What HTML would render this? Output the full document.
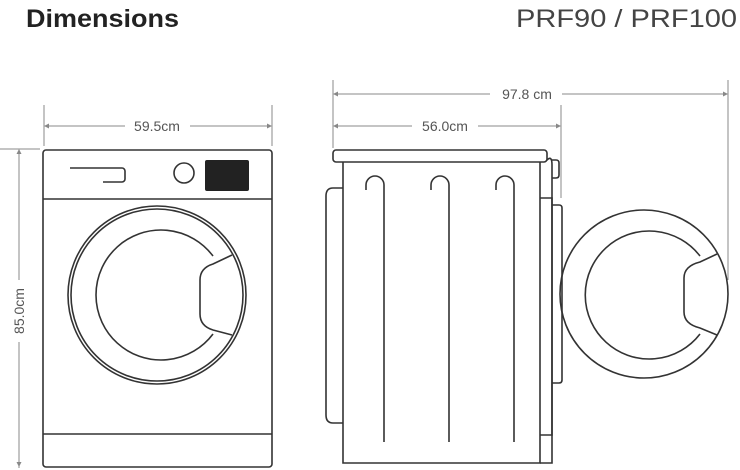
<!DOCTYPE html>
<html><head><meta charset="utf-8"><style>
html,body{margin:0;padding:0;background:#fff;width:740px;height:470px;overflow:hidden}
svg{display:block}
text{font-family:"Liberation Sans",sans-serif}
</style></head><body>
<svg width="740" height="470" viewBox="0 0 740 470" xmlns="http://www.w3.org/2000/svg">
<text x="26" y="27" font-size="25" font-weight="bold" fill="#222" textLength="153" lengthAdjust="spacingAndGlyphs">Dimensions</text>
<text x="516" y="27" font-size="25" fill="#444" textLength="221" lengthAdjust="spacingAndGlyphs">PRF90  /  PRF100</text>

<g stroke="#888" stroke-width="1" fill="none">
  <!-- front width dim -->
  <line x1="44" y1="105" x2="44" y2="146"/>
  <line x1="272" y1="105" x2="272" y2="146"/>
  <line x1="46" y1="126" x2="125" y2="126"/>
  <line x1="190" y1="126" x2="270" y2="126"/>
  <!-- height dim -->
  <line x1="0" y1="149" x2="40" y2="149"/>
  <line x1="19" y1="150" x2="19" y2="280"/>
  <line x1="19" y1="342" x2="19" y2="468"/>
  <!-- side dims -->
  <line x1="333" y1="80" x2="333" y2="148"/>
  <line x1="728" y1="80" x2="728" y2="280"/>
  <line x1="561" y1="105" x2="561" y2="198"/>
  <line x1="335" y1="94" x2="490" y2="94"/>
  <line x1="562" y1="94" x2="726" y2="94"/>
  <line x1="335" y1="126" x2="412" y2="126"/>
  <line x1="478" y1="126" x2="559" y2="126"/>
</g>
<g fill="#888">
  <path d="M44 126 l5 -2.5 v5z"/><path d="M272 126 l-5 -2.5 v5z"/>
  <path d="M19 149 l-2.5 5 h5z"/><path d="M19 467 l-2.5 -5 h5z"/>
  <path d="M333 94 l5 -2.5 v5z"/><path d="M728 94 l-5 -2.5 v5z"/>
  <path d="M333 126 l5 -2.5 v5z"/><path d="M561 126 l-5 -2.5 v5z"/>
</g>
<g font-size="14" fill="#555">
  <text x="157" y="131" text-anchor="middle">59.5cm</text>
  <text x="527" y="99" text-anchor="middle">97.8 cm</text>
  <text x="445" y="131" text-anchor="middle">56.0cm</text>
  <text transform="translate(24,311) rotate(-90)" text-anchor="middle">85.0cm</text>
</g>

<!-- front view -->
<g stroke="#333" stroke-width="1.6" fill="none">
  <rect x="43" y="150" width="229" height="317" rx="3"/>
  <line x1="43" y1="199" x2="272" y2="199"/>
  <line x1="43" y1="434" x2="272" y2="434"/>
  <path d="M70 168 H122 a3 3 0 0 1 3 3 v8 a3 3 0 0 1 -3 3 H103"/>
  <circle cx="184" cy="173" r="10"/>
  <circle cx="157" cy="295" r="89"/>
  <circle cx="157" cy="295" r="86"/>
  <path d="M213 256 A65 65 0 1 0 213 334"/>
  <path d="M232 255 L213 264 Q200 268 200 280 V314 Q200 326 213 330 L232 335"/>
</g>
<rect x="205" y="160" width="44" height="31" rx="2" fill="#222"/>

<!-- side view -->
<g stroke="#333" stroke-width="1.6" fill="none">
  <rect x="333" y="150" width="214" height="12" rx="3"/>
  <path d="M343 162 V463 H540 V162"/>
  <path d="M540 198 H552 V435 H540"/>
  <path d="M547 160 Q552 155 552 165 V463 H540"/>
  <path d="M552 160 h4 q3 0 3 3 v12 q0 3 -3 3 h-4"/>
  <path d="M552 205 h7 q3 0 3 3 v172 q0 3 -3 3 h-7"/>
  <path d="M343 188 h-10 q-7 0 -7 8 v219 q0 8 7 8 h10"/>
  <path d="M366 190 v-5 a9 9 0 0 1 18 0 V442"/>
  <path d="M431 190 v-5 a9 9 0 0 1 18 0 V442"/>
  <path d="M496 190 v-5 a9 9 0 0 1 18 0 V442"/>
  <circle cx="644" cy="294" r="84"/>
  <path d="M700 256 A64 64 0 1 0 700 334"/>
  <path d="M717 254 L700 262 Q684 266 684 278 V312 Q684 324 700 328 L717 335"/>
</g>
</svg>
</body></html>
